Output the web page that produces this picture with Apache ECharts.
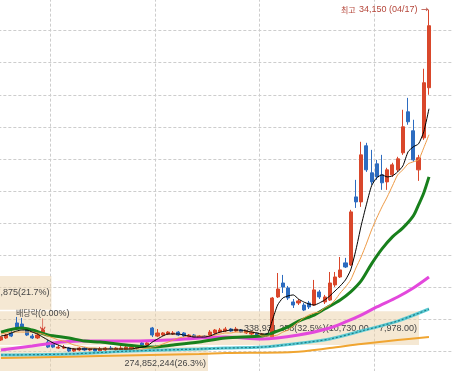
<!DOCTYPE html>
<html><head><meta charset="utf-8">
<script src="https://cdn.jsdelivr.net/npm/echarts@6.0.0/dist/echarts.min.js"></script>
<style>html,body{margin:0;padding:0;background:#fff;overflow:hidden}#c{width:452px;height:371px}</style>
</head><body><div id="c"></div>
<script>
const dates = ['2022-12-16','2022-12-19','2022-12-20','2022-12-21','2022-12-22','2022-12-23','2022-12-26','2022-12-27','2022-12-28','2022-12-29',
'2023-01-02','2023-01-03','2023-01-04','2023-01-05','2023-01-06','2023-01-09','2023-01-10','2023-01-11','2023-01-12','2023-01-13',
'2023-01-16','2023-01-17','2023-01-18','2023-01-19','2023-01-20','2023-01-25','2023-01-26','2023-01-27','2023-01-30','2023-01-31',
'2023-02-01','2023-02-02','2023-02-03','2023-02-06','2023-02-07','2023-02-08','2023-02-09','2023-02-10','2023-02-13','2023-02-14',
'2023-02-15','2023-02-16','2023-02-17','2023-02-20','2023-02-21','2023-02-22','2023-02-23','2023-02-24','2023-02-27','2023-02-28',
'2023-03-02','2023-03-03','2023-03-06','2023-03-07','2023-03-08','2023-03-09','2023-03-10','2023-03-13','2023-03-14','2023-03-15',
'2023-03-16','2023-03-17','2023-03-20','2023-03-21','2023-03-22','2023-03-23','2023-03-24','2023-03-27','2023-03-28','2023-03-29',
'2023-03-30','2023-03-31','2023-04-03','2023-04-04','2023-04-05','2023-04-06','2023-04-07','2023-04-10','2023-04-11','2023-04-12',
'2023-04-13','2023-04-14','2023-04-17'];

const opens = [8360,8520,8910,9690,9610,9140,8670,8520,8910,8200, 8130,7730,7730,7730,7500,7580,7730,7580,7660,7500,
7580,7730,7580,7580,7580,7660,7730,8130,7970,9300, 8670,8750,8830,8830,8980,8910,8590,8750,8590,8670,
8750,8910,8980,9060,9220,9060,9140,8910,8830,8910, 8670,8830,8590,11720,12810,12420,11330,11250,11090,11250,
11090,12110,11330,11480,12660,13280,14380,14220,19530,19140, 23520,21410,22110,21250,20700,21250,21640,22970,26170,24690,
21640,24140,28050];
const closes = [8590,8750,8670,9220,9380,8750,8520,8750,9140,7810, 7810,7810,7810,7500,7660,7730,7580,7660,7500,7660,
7730,7660,7730,7730,7810,7810,7810,7970,8130,8750, 8910,8910,8980,8910,8750,8670,8750,8590,8670,8590,
8980,9140,9140,9220,9060,9220,8980,9060,8980,8750, 8830,8670,11640,12340,12500,11640,11090,11410,10700,10940,
12270,11720,11720,12810,13280,13830,14060,18360,19140,22810, 21640,20700,21090,20630,21640,22030,22500,25000,25390,22420,
22580,28440,32890];
const lows = [8280,8440,8590,9140,9300,8670,8440,8440,8830,7730, 7730,7660,7660,7420,7420,7500,7500,7500,7420,7420,
7500,7580,7500,7420,7500,7580,7580,7810,7890,8590, 8590,8670,8750,8750,8670,8590,8520,8520,8520,8520,
8670,8830,8910,8980,8980,8980,8910,8830,8750,8670, 8590,8590,8520,11640,12030,11480,10860,11090,10620,10780,
11020,11560,11170,11410,12500,13200,13980,14140,18670,18750, 21480,20470,20860,20080,20080,21090,21480,22810,25160,22270,
20780,23980,27500];
const highs = [8670,8830,9060,10160,10080,9300,8830,8910,9300,8360, 8200,7970,7970,7810,7730,7810,7810,7730,7730,7810,
7810,7890,7810,7890,7970,7890,7970,8280,8200,9380, 9220,8980,9060,9060,9060,8980,8830,8830,8750,8750,
9140,9220,9300,9380,9300,9380,9220,9140,9060,8980, 8910,8910,11720,13590,13440,12580,11560,11560,11250,11410,
13050,12270,11880,13670,13670,14840,14770,18520,20860,23830, 23750,23200,22420,22810,21800,22190,22660,26330,27260,25550,
22810,29530,34150];

const ma5 = [8670,8750,8910,9060,9140,9140,8980,8830,8590,8360, 8130,7970,7810,7730,7660,7660,7660,7660,7660,7660,
7660,7660,7660,7660,7660,7660,7730,7810,7890,8200, 8440,8670,8830,8830,8830,8750,8670,8590,8590,8590,
8670,8830,8980,9060,9140,9140,9140,9060,8980,8910, 8830,8830,9920,11090,11640,11800,11880,11560,11330,11170,
11090,11250,11480,11800,12190,12580,13050,13830,15390,17270, 18910,20390,21020,21250,21090,21170,21480,21950,23050,23440,
23670,24610,26410];
const ma10 = [8830,8910,8980,8980,8980,8980,8980,8910,8830,8670, 8520,8360,8280,8130,7970,7890,7810,7730,7730,7660,
7660,7660,7660,7660,7660,7660,7660,7660,7730,7810, 7890,8050,8200,8360,8520,8590,8670,8670,8670,8670,
8670,8750,8830,8910,8910,8980,8980,8980,8980,8910, 8670,8670,8670,8750,8980,9140,9450,9770,10080,10310,
10470,10550,10860,11090,11480,12030,12500,13050,13980,14840, 15860,16950,17890,18750,19530,20390,21250,21640,22110,22270,
22420,23360,24380];
const ma20 = [[0,8980],[4,9300],[6,9140],[9,8750],[13,8520],[16,8280],[19,8200],[24,7970],[29,7810],[33,7970],[38,8200],[43,8520],
[50,8670],[52,8910],[55,9380],[57,9840],[60,10310],[62,10780],[65,11480],[67,12110],[69,12970],[71,14300],[73,15470],[75,16410],
[77,17110],[79,18050],[80,18910],[81,19840],[82,21090]];
const ma60 = [[0,7580],[6,7890],[10,8130],[15,8280],[19,8280],[25,8280],[32,8360],[38,8520],[43,8590],[50,8440],[57,8750],
[63,9300],[66,9770],[69,10310],[72,10940],[76,11720],[79,12420],[82,13280]];
const ma120 = [[0,7190],[13,7270],[25,7500],[38,7660],[43,7730],[50,7810],[56,8050],[63,8440],[69,9060],[76,9840],[82,10780]];
const ma240 = [[0,6950],[19,7110],[38,7270],[43,7340],[56,7420],[63,7730],[69,8050],[76,8360],[82,8590]];

const profileLow = [5226, 7978, 10730];
const profileHigh = [7978, 10730, 13482];
const profileVolume = [274852244, 338931258, 226847875];
const profilePct = [26.3, 32.5, 21.7];

const exDivDate = '2022-12-28';
const exDivRate = '0.00%';

const fmt = v => v.toLocaleString('en-US');
const fmt2 = v => v.toLocaleString('en-US', {minimumFractionDigits: 2, maximumFractionDigits: 2});
const candles = dates.map((d, i) => [opens[i], closes[i], lows[i], highs[i]]);
let hiIdx = 0;
highs.forEach((h, i) => { if (h > highs[hiIdx]) hiIdx = i; });
const exIdx = dates.indexOf(exDivDate);
const maxPctIdx = profilePct.indexOf(Math.max(...profilePct));
const profileData = profileLow.map((lo, i) => [lo, profileHigh[i], profilePct[i], i]);

const UP = '#d9472b', DOWN = '#2d6cc0';
const chart = echarts.init(document.getElementById('c'), null, {renderer: 'canvas'});
chart.setOption({
  animation: false,
  backgroundColor: '#ffffff',
  grid: {left: -1.65, top: -1.33, width: 464.55, height: 384.4, containLabel: false, outerBoundsMode: 'none'},
  xAxis: [{
    type: 'category', data: dates, boundaryGap: true, max: 88,
    axisLine: {show: false}, axisTick: {show: false}, axisLabel: {show: false},
    splitLine: {show: true,
      interval: (idx) => idx > 0 && idx < dates.length && dates[idx].slice(5, 7) !== dates[idx - 1].slice(5, 7),
      lineStyle: {color: '#cdcdcd', type: [3, 2], width: 1}}
  }, {
    type: 'value', min: 20.14, max: 33.79, show: false
  }],
  yAxis: [{
    type: 'value', min: 5000, max: 35000, interval: 2500,
    axisLine: {show: false}, axisTick: {show: false}, axisLabel: {show: false},
    splitLine: {show: true, lineStyle: {color: '#cdcdcd', type: [3, 2], width: 1}}
  }],
  series: [{
    type: 'custom', xAxisIndex: 1, yAxisIndex: 0, z: 1, clip: false,
    data: profileData,
    encode: {x: 2, y: [0, 1]},
    renderItem: function (params, api) {
      const lo = api.value(0), hi = api.value(1), pct = api.value(2), i = api.value(3);
      const bl = api.coord([0, lo]);
      const tr = api.coord([pct, hi]);
      const top = tr[1] + 1.5, bottom = bl[1];
      let txt = fmt(profileVolume[i]) + '(' + pct.toFixed(1) + '%)';
      if (i === maxPctIdx) txt += '(' + fmt2(profileHigh[i]) + ' ~ ' + fmt2(profileLow[i]) + ')';
      return {type: 'group', children: [
        {type: 'rect', shape: {x: bl[0], y: top, width: tr[0] - bl[0], height: bottom - top},
          style: {fill: 'rgba(236, 210, 168, 0.5)'}},
        {type: 'text', x: tr[0] - 2, y: (top + bottom) / 2,
          style: {text: txt, fill: '#454545', font: '9px "Liberation Sans", sans-serif', align: 'right', verticalAlign: 'middle'}}
      ]};
    }
  }, {
    type: 'candlestick', data: candles, barWidth: 3.6, z: 3,
    itemStyle: {color: UP, color0: DOWN, borderColor: UP, borderColor0: DOWN, borderWidth: 1},
    markPoint: {
      animation: false,
      data: [{
        coord: [hiIdx, highs[hiIdx]], symbol: 'rect', symbolSize: 1, itemStyle: {color: 'rgba(0,0,0,0)'},
        label: {show: true, position: 'left', distance: 0,
          formatter: '{k|최고} {n|' + fmt(highs[hiIdx]) + ' (' + dates[hiIdx].slice(5).replace('-', '/') + ')} {a|→}',
          rich: {k: {fontFamily: 'Noto Sans CJK KR', fontSize: 8, color: '#b5463a'},
                 n: {fontFamily: 'Liberation Sans', fontSize: 9, color: '#b5463a'},
                 a: {fontFamily: 'DejaVu Sans', fontSize: 9, color: '#b5463a'}}}
      }, {
        coord: [exIdx, closes[exIdx]], symbol: 'path://M2,0 L2,10 M0,7 L2,10 L4,7', symbolSize: [5, 12],
        symbolOffset: [0, '-45%'], symbolKeepAspect: false,
        itemStyle: {color: 'rgba(0,0,0,0)', borderColor: '#d04030', borderWidth: 1},
        label: {show: true, position: 'top', distance: 0,
          formatter: '{k|배당락}{n|(' + exDivRate + ')}',
          rich: {k: {fontFamily: 'Noto Sans CJK KR', fontSize: 8, color: '#444'},
                 n: {fontFamily: 'Liberation Sans', fontSize: 9, color: '#444'}}}
      }]
    }
  },
  {type: 'line', data: ma240, smooth: 0.3, showSymbol: false, z: 4, lineStyle: {color: '#f0a531', width: 2}},
  {type: 'line', data: ma120, smooth: 0.3, showSymbol: false, z: 4, lineStyle: {color: '#5ccbd4', width: 3}},
  {type: 'line', data: ma120, smooth: 0.3, showSymbol: false, z: 4, lineStyle: {color: '#1f7d86', width: 1.2, type: [2, 2]}},
  {type: 'line', data: ma60, smooth: 0.3, showSymbol: false, z: 4, lineStyle: {color: '#e348dc', width: 3}},
  {type: 'line', data: ma20, smooth: 0.3, showSymbol: false, z: 4, lineStyle: {color: '#18801c', width: 3}},
  {type: 'line', data: ma10, smooth: 0.2, showSymbol: false, z: 4, lineStyle: {color: '#ee9a45', width: 1}},
  {type: 'line', data: ma5, smooth: 0.2, showSymbol: false, z: 4, lineStyle: {color: '#000000', width: 1}}
  ]
});
</script></body></html>
